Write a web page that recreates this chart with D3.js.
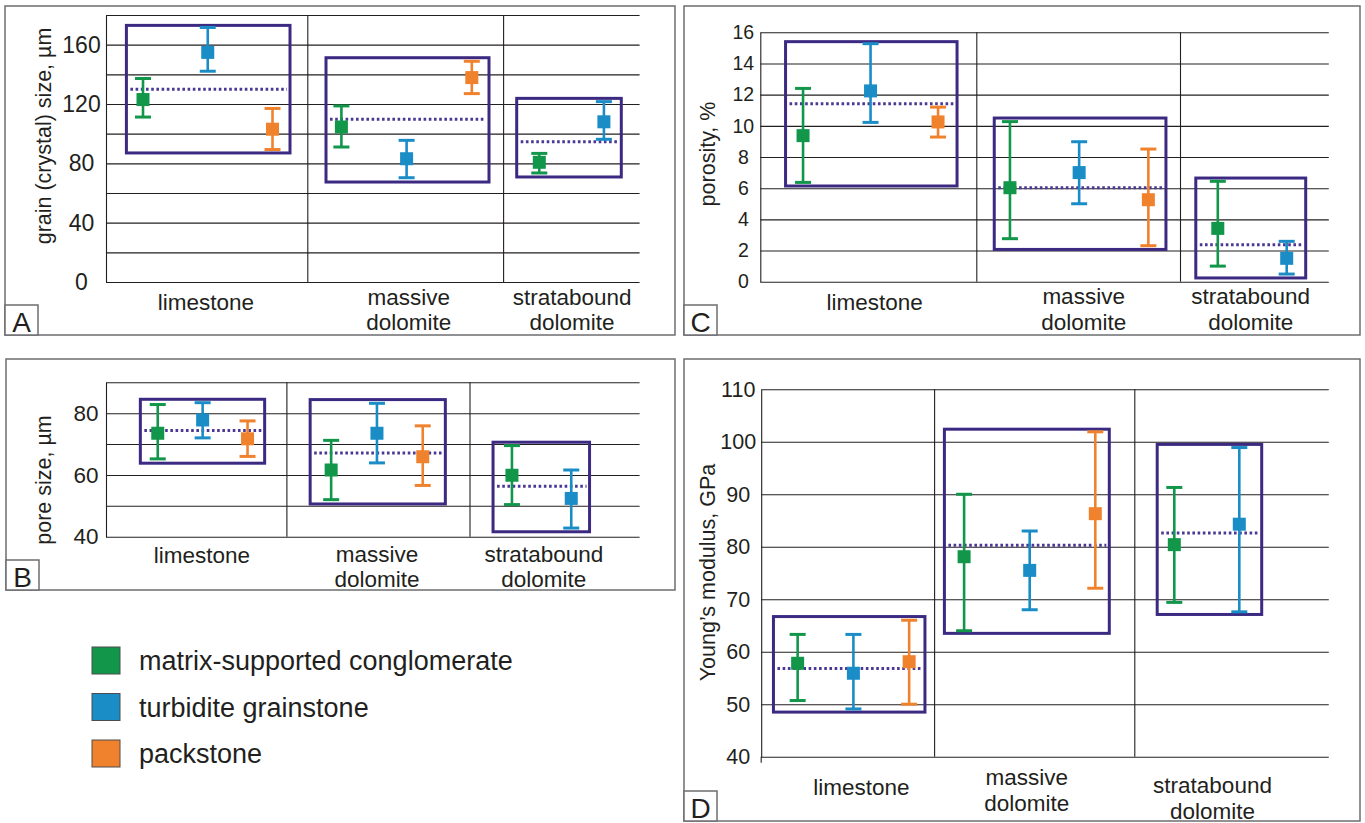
<!DOCTYPE html>
<html><head><meta charset="utf-8">
<script src="https://cdn.jsdelivr.net/npm/d3@7"></script>
<style>
body{margin:0;background:#fff}
svg{display:block}
text{font-family:"Liberation Sans",Arial,Helvetica,sans-serif;fill:#231f20}
</style>
</head><body>
<svg id="chart" width="1365" height="823"></svg>
<script>
// ---------------- DATA ----------------
const categories = [["limestone"], ["massive", "dolomite"], ["stratabound", "dolomite"]];
const seriesNames = ["matrix-supported conglomerate", "turbidite grainstone", "packstone"];
const seriesColors = ["#12964a", "#1a8cc6", "#f0822d"];

// Panel A: grain (crystal) size, µm   — each entry [low, mean, high] per category
const grainGrid = [0, 20, 40, 60, 80, 100, 120, 140, 160, 180];
const grainTickLabels = [0, 40, 80, 120, 160];
const grainConglomerate = [[111.2, 123, 137.2], [91, 104.5, 118.7], [73.5, 80.7, 86.7]];
const grainTurbidite   = [[142.1, 154.8, 171.6], [70.3, 83.1, 95.5], [96.2, 108, 121.6]];
const grainPackstone   = [[89.3, 103, 117], [127, 137.8, 148.8], null];
const grainBox  = [[87, 173], [67.4, 151.2], [70.8, 123.8]];
const grainMean = [129.9, 109.7, 94.6];

// Panel B: pore size, µm
const poreGrid = [40, 50, 60, 70, 80, 90];
const poreTickLabels = [40, 60, 80];
const poreConglomerate = [[65.2, 73.5, 82.8], [52.0, 61.6, 71.2], [50.4, 59.9, 69.5]];
const poreTurbidite   = [[72.0, 77.8, 83.4], [63.9, 73.5, 83.2], [42.8, 52.4, 61.6]];
const porePackstone   = [[66.0, 71.7, 77.5], [56.6, 65.9, 75.9], null];
const poreBox  = [[63.8, 84.5], [50.6, 84.4], [41.6, 70.6]];
const poreMean = [74.4, 67.1, 56.3];

// Panel C: porosity, %
const porosityGrid = [0, 2, 4, 6, 8, 10, 12, 14, 16];
const porosityTickLabels = [0, 2, 4, 6, 8, 10, 12, 14, 16];
const porosityConglomerate = [[6.37, 9.37, 12.4], [2.76, 6.03, 10.27], [1.0, 3.42, 6.44]];
const porosityTurbidite   = [[10.22, 12.24, 15.27], [5.0, 7.0, 8.98], [0.49, 1.5, 2.59]];
const porosityPackstone   = [[9.28, 10.25, 11.2], [2.31, 5.26, 8.51], null];
const porosityBox  = [[6.14, 15.4], [2.07, 10.5], [0.24, 6.65]];
const porosityMean = [11.42, 6.03, 2.37];

// Panel D: Young's modulus, GPa
const youngGrid = [40, 50, 60, 70, 80, 90, 100, 110];
const youngTickLabels = [40, 50, 60, 70, 80, 90, 100, 110];
const youngConglomerate = [[50.7, 57.8, 63.3], [64.0, 78.1, 90.0], [69.4, 80.4, 91.3]];
const youngTurbidite   = [[49.1, 55.9, 63.3], [68.0, 75.5, 83.0], [67.6, 84.3, 98.9]];
const youngPackstone   = [[50.0, 58.1, 66.0], [72.1, 86.3, 101.9], null];
const youngBox  = [[48.5, 66.7], [63.5, 102.4], [67.1, 99.5]];
const youngMean = [56.8, 80.3, 82.6];

// ---------------- LAYOUT ----------------
const panels = [
  { letter: "A", title: "grain (crystal) size, \u00b5m",
    series: [grainConglomerate, grainTurbidite, grainPackstone], box: grainBox, mean: grainMean,
    grid: grainGrid, ticks: grainTickLabels, domain: [0, 180],
    frame: [5, 6, 670, 329], xCols: [106, 307.8, 503.6, 639.6], yRange: [282, 15],
    shift: [0.85, 0.9, 0], spacing: [64.75, 65.2, 64.6],
    pads: [[16.6, 17.5], [15.4, 17.2], [22.6, 17.4]],
    labelShift: [-1, 3, 0.5], labelDy: [28, 23, 23], lineH: 25,
    tickFont: 23, tickDx: -24.5, axisExt: 0,
    titleX: 51, titleY: 136 },
  { letter: "C", title: "porosity, %",
    series: [porosityConglomerate, porosityTurbidite, porosityPackstone], box: porosityBox, mean: porosityMean,
    grid: porosityGrid, ticks: porosityTickLabels, domain: [0, 16],
    frame: [684, 6, 676, 329], xCols: [760.3, 976.8, 1180.5, 1328.8], yRange: [281.7, 32.3],
    shift: [2, 0.5, -2.4], spacing: [67.5, 69.2, 68.9],
    pads: [[17.5, 19], [15.7, 17.6], [22, 19]],
    labelShift: [6, 5, -4], labelDy: [28, 22, 22], lineH: 26,
    tickFont: 19.5, tickDx: -17, axisExt: 0,
    titleX: 715, titleY: 154 },
  { letter: "B", title: "pore size, \u00b5m",
    series: [poreConglomerate, poreTurbidite, porePackstone], box: poreBox, mean: poreMean,
    grid: poreGrid, ticks: poreTickLabels, domain: [40, 90],
    frame: [6, 359, 669, 231], xCols: [106, 286.9, 470, 639.6], yRange: [536.7, 382.3],
    shift: [6.2, -1.5, -13.2], spacing: [44.9, 45.8, 59.3],
    pads: [[17.4, 17.1], [21, 22.6], [18.9, 18.3]],
    labelShift: [5.5, -1.5, -11], labelDy: [26, 25, 25], lineH: 25,
    tickFont: 22.5, tickDx: -20, axisExt: 0,
    titleX: 51, titleY: 480 },
  { letter: "D", title: "Young\u2019s modulus, GPa",
    series: [youngConglomerate, youngTurbidite, youngPackstone], box: youngBox, mean: youngMean,
    grid: youngGrid, ticks: youngTickLabels, domain: [40, 110],
    frame: [684, 359, 676, 462], xCols: [761.2, 934.6, 1134.8, 1328.8], yRange: [756.7, 389.3],
    shift: [5.5, -5, -25], spacing: [55.75, 65.6, 65],
    pads: [[24.2, 15.8], [19.7, 14], [17.1, 22.4]],
    labelShift: [13.4, -8, -19.3], labelDy: [38, 28, 36], lineH: 26,
    tickFont: 21.5, tickDx: -23, axisExt: 6,
    titleX: 715, titleY: 572.5 }
];

const INK = "#231f20";
const BOX = "#3c2a82";
const DOT = "#4a3894";
const FONT = '"Liberation Sans",Arial,Helvetica,sans-serif';

const svg = d3.select("#chart");

function drawPanel(p) {
  const g = svg.append("g");
  const [fx, fy, fw, fh] = p.frame;
  g.append("rect").attr("x", fx).attr("y", fy).attr("width", fw).attr("height", fh)
    .attr("fill", "#fff").attr("stroke", "#6d6e71").attr("stroke-width", 1.5);

  const y = d3.scaleLinear().domain(p.domain).range(p.yRange);
  const x = d3.scaleLinear().domain([0, 1, 2, 3]).range(p.xCols);
  const left = p.xCols[0], right = p.xCols[3];
  const top = y(p.domain[1]), bottom = y(p.domain[0]);

  // gridlines + left axis line
  g.append("g").attr("transform", `translate(${left},0)`)
    .call(d3.axisLeft(y).tickValues(p.grid).tickSize(-(right - left)).tickSizeOuter(0).tickFormat(""))
    .call(s => {
      s.selectAll(".tick line").attr("stroke", INK).attr("stroke-width", 1.1);
      s.select(".domain").attr("stroke", INK).attr("stroke-width", 1.1);
    });
  if (p.axisExt) {
    g.append("line").attr("x1", left).attr("x2", left).attr("y1", bottom).attr("y2", bottom + p.axisExt)
      .attr("stroke", INK).attr("stroke-width", 1.1);
  }
  // tick labels (centred in the label column, as in the original)
  g.append("g").attr("transform", `translate(${left},0)`)
    .call(d3.axisLeft(y).tickValues(p.ticks).tickSize(0).tickPadding(0))
    .call(s => {
      s.select(".domain").remove();
      s.selectAll("text").attr("font-size", p.tickFont).attr("fill", INK)
        .attr("font-family", FONT).attr("text-anchor", "middle").attr("x", p.tickDx);
    });
  // category dividers
  [1, 2].forEach(i => {
    g.append("line").attr("x1", x(i)).attr("x2", x(i)).attr("y1", top).attr("y2", bottom)
      .attr("stroke", INK).attr("stroke-width", 1.1);
  });

  // axis title
  g.append("text").attr("transform", `translate(${p.titleX},${p.titleY}) rotate(-90)`)
    .attr("text-anchor", "middle").attr("font-size", 21.5).text(p.title);

  categories.forEach((cat, c) => {
    const present = p.series.map((s, j) => ({ v: s[c], j })).filter(d => d.v);
    const n = present.length;
    const cx = x(c + 0.5) + p.shift[c];
    present.forEach((d, k) => { d.x = cx + (k - (n - 1) / 2) * p.spacing[c]; });
    const bx0 = present[0].x - p.pads[c][0];
    const bx1 = present[n - 1].x + p.pads[c][1];
    // range box
    g.append("rect").attr("x", bx0).attr("y", y(p.box[c][1]))
      .attr("width", bx1 - bx0).attr("height", y(p.box[c][0]) - y(p.box[c][1]))
      .attr("fill", "none").attr("stroke", BOX).attr("stroke-width", 3);
    // dotted mean
    g.append("line").attr("x1", bx0 + 4).attr("x2", bx1 - 3)
      .attr("y1", y(p.mean[c])).attr("y2", y(p.mean[c]))
      .attr("stroke", DOT).attr("stroke-width", 3).attr("stroke-dasharray", "2.6,2.6");
    // error bars
    present.forEach(d => {
      const col = seriesColors[d.j];
      const [lo, mid, hi] = d.v;
      const eg = g.append("g");
      eg.append("line").attr("x1", d.x).attr("x2", d.x).attr("y1", y(lo)).attr("y2", y(hi))
        .attr("stroke", col).attr("stroke-width", 2.6);
      [lo, hi].forEach(v => {
        eg.append("line").attr("x1", d.x - 8).attr("x2", d.x + 8).attr("y1", y(v)).attr("y2", y(v))
          .attr("stroke", col).attr("stroke-width", 3);
      });
      eg.append("rect").attr("x", d.x - 6.5).attr("y", y(mid) - 6.5).attr("width", 13).attr("height", 13)
        .attr("fill", col);
    });
    // category label
    const t = g.append("text").attr("text-anchor", "middle").attr("font-size", 22.5);
    cat.forEach((line, i) => {
      t.append("tspan").attr("x", x(c + 0.5) + p.labelShift[c])
        .attr("y", bottom + p.labelDy[c] + i * p.lineH).text(line);
    });
  });

  // panel letter
  g.append("rect").attr("x", fx).attr("y", fy + fh - 30).attr("width", 33).attr("height", 30)
    .attr("fill", "#fff").attr("stroke", "#6d6e71").attr("stroke-width", 1.5);
  g.append("text").attr("x", fx + 16.5).attr("y", fy + fh - 3).attr("text-anchor", "middle")
    .attr("font-size", 28).text(p.letter);
}

panels.forEach(drawPanel);

// legend
const legend = svg.append("g");
seriesNames.forEach((name, i) => {
  const cy = 660.5 + i * 46.5;
  legend.append("rect").attr("x", 92).attr("y", cy - 13.5).attr("width", 28).attr("height", 27)
    .attr("fill", seriesColors[i]).attr("stroke", "#4d4d4f").attr("stroke-width", 1);
  legend.append("text").attr("x", 139).attr("y", cy + 9.5).attr("font-size", 27).text(name);
});
</script>
</body></html>
